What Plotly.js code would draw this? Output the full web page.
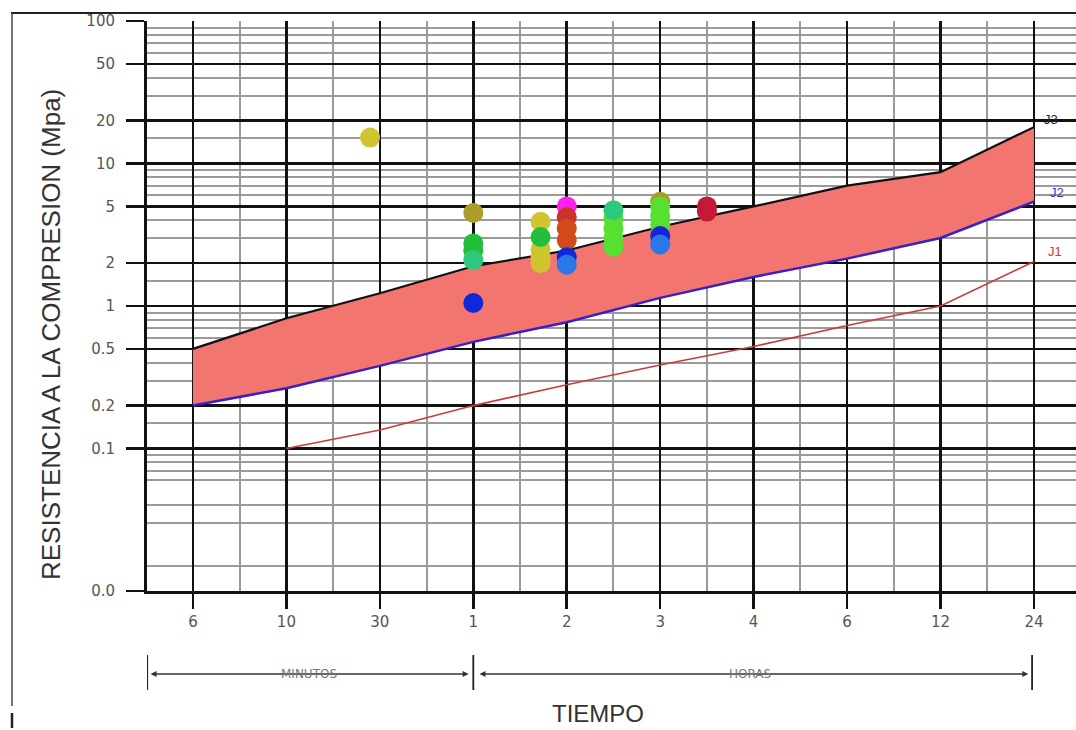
<!DOCTYPE html>
<html>
<head>
<meta charset="utf-8">
<script src="https://cdn.plot.ly/plotly-3.0.1.min.js"></script>
<style>html,body{margin:0;padding:0;background:#fff;}#chart{width:1076px;height:730px;}</style>
</head>
<body>
<div id="chart"></div>
<script>
// ---- time axis (category positions) ----
const timeLabels = ['6', '10', '30', '1', '2', '3', '4', '6', '12', '24'];
const timePos = [0, 1, 2, 3, 4, 5, 6, 7, 8, 9];

// ---- J curves (MPa) at each time position ----
const J3 = [0.5, 0.82, 1.23, 1.9, 2.45, 3.6, 5.0, 7.0, 8.7, 18.0];
const J2 = [0.2, 0.265, 0.38, 0.56, 0.77, 1.14, 1.6, 2.15, 3.0, 5.4];
const J1pos = [1, 2, 3, 4, 5, 6, 7, 8, 9];
const J1 = [0.1, 0.135, 0.2, 0.28, 0.385, 0.52, 0.73, 1.0, 2.05];

// ---- test results (position on time scale, MPa) ----
const yellowX = [1.895, 3.72, 3.72, 3.72, 3.72];
const yellowY = [15.2, 3.9, 2.5, 2.2, 2.0];
const oliveX = [3, 5];
const oliveY = [4.5, 5.4];
const greenX = [3, 3, 3.72];
const greenY = [2.75, 2.45, 3.05];
const tealX = [3, 4.5];
const tealY = [2.1, 4.7];
const lightGreenX = [4.5, 4.5, 4.5, 4.5, 5, 5, 5];
const lightGreenY = [4.1, 3.5, 3.0, 2.6, 5.0, 4.3, 3.7];
const magentaX = [4];
const magentaY = [5.0];
const redX = [4];
const redY = [4.2];
const orangeX = [4, 4];
const orangeY = [3.5, 2.9];
const blueX = [3, 4, 5];
const blueY = [1.05, 2.2, 3.1];
const lightBlueX = [4, 5];
const lightBlueY = [1.95, 2.7];
const crimsonX = [5.5, 5.5];
const crimsonY = [5.0, 4.6];

// ---- y axis ticks ----
const yTickVals = [0.01, 0.1, 0.2, 0.5, 1, 2, 5, 10, 20, 50, 100];
const yTickText = ['0.0', '0.1', '0.2', '0.5', '1', '2', '5', '10', '20', '50', '100'];
const minorMult = [1.5, 3, 4, 6, 7, 8, 9];
const yMinor = [];
[0.01, 0.1, 1, 10].forEach(d => minorMult.forEach(m => yMinor.push(+(d * m).toPrecision(3))));
const xMinor = [];
for (let i = -0.5; i <= 9.5; i += 1) xMinor.push(i);

const traces = [];
traces.push({x: timePos, y: J2, mode: 'lines', line: {color: '#3a1ec8', width: 2.5}, hoverinfo: 'skip'});
traces.push({x: timePos, y: J3, mode: 'lines', fill: 'tonexty', fillcolor: '#F2756F', line: {color: '#111', width: 2.2}, hoverinfo: 'skip'});
traces.push({x: J1pos, y: J1, mode: 'lines', line: {color: '#c83c3c', width: 1.6}, hoverinfo: 'skip'});

const groups = [
  [yellowX, yellowY, '#cfc530'],
  [oliveX, oliveY, '#ab9d2a'],
  [greenX, greenY, '#22c03a'],
  [lightGreenX, lightGreenY, '#58e030'],
  [tealX, tealY, '#2ec87c'],
  [magentaX, magentaY, '#ff22ee'],
  [redX, redY, '#cc3328'],
  [orangeX, orangeY, '#d24a18'],
  [blueX, blueY, '#1028d8'],
  [lightBlueX, lightBlueY, '#2a78e8'],
  [crimsonX, crimsonY, '#c41a36']
];
groups.forEach(g => traces.push({x: g[0], y: g[1], mode: 'markers', marker: {color: g[2], size: 20, line: {width: 0}}}));

const last = timePos.length - 1;
const font = 'Liberation Sans, Arial, sans-serif';

// paper helpers (plot area: x 147..1076 px, y 21..591 px)
const px = v => (v - 147) / 929;
const py = v => (591 - v) / 570;

const layout = {
  width: 1076, height: 730,
  margin: {l: 147, r: 0, t: 21, b: 139},
  paper_bgcolor: '#fff', plot_bgcolor: '#fff',
  showlegend: false,
  xaxis: {
    range: [-0.492, 9.45],
    tickmode: 'array', tickvals: timePos, ticktext: timeLabels,
    ticks: 'outside', ticklen: 15, tickwidth: 2.5, tickcolor: '#111',
    showgrid: true, gridcolor: '#111', gridwidth: 2.5,
    minor: {tickvals: xMinor, showgrid: true, gridcolor: '#9a9a9a', gridwidth: 2, ticks: ''},
    showline: true, linecolor: '#111', linewidth: 3,
    zeroline: false,
    tickfont: {family: 'DejaVu Sans, sans-serif', size: 15, color: '#555'}
  },
  yaxis: {
    type: 'log', range: [-2, 2],
    tickmode: 'array', tickvals: yTickVals, ticktext: yTickText,
    ticks: 'outside', ticklen: 18, tickwidth: 2.5, tickcolor: '#111',
    ticklabelstandoff: 8,
    showgrid: true, gridcolor: '#111', gridwidth: 2.5,
    minor: {tickvals: yMinor, showgrid: true, gridcolor: '#9a9a9a', gridwidth: 2, ticks: ''},
    showline: true, linecolor: '#111', linewidth: 3,
    zeroline: false,
    tickfont: {family: 'DejaVu Sans, sans-serif', size: 15, color: '#555'}
  },
  annotations: [
    {x: timePos[last] + 0.18, y: Math.log10(J3[last] * 1.13), xref: 'x', yref: 'y', text: 'J3', showarrow: false, font: {family: font, size: 13, color: '#222'}},
    {x: timePos[last] + 0.25, y: Math.log10(J2[last] * 1.15), xref: 'x', yref: 'y', text: 'J2', showarrow: false, font: {family: font, size: 13, color: '#3a3acc'}},
    {x: J1pos[J1pos.length - 1] + 0.22, y: Math.log10(J1[J1.length - 1] * 1.17), xref: 'x', yref: 'y', text: 'J1', showarrow: false, font: {family: font, size: 13, color: '#c04040'}},
    {x: px(51), y: py(335), xref: 'paper', yref: 'paper', xanchor: 'center', yanchor: 'middle', text: 'RESISTENCIA A LA COMPRESION (Mpa)', textangle: -90, showarrow: false, font: {family: font, size: 26, color: '#333'}},
    {x: px(598), y: py(713), xref: 'paper', yref: 'paper', xanchor: 'center', yanchor: 'middle', text: 'TIEMPO', showarrow: false, font: {family: font, size: 24, color: '#333'}},
    // bracket arrows
    {x: 2.95, y: py(674), xref: 'x', yref: 'paper', ax: -0.47, ay: 0, axref: 'x', ayref: 'pixel', text: '', showarrow: true, arrowhead: 2, arrowside: 'end+start', arrowsize: 0.8, arrowwidth: 1.5, arrowcolor: '#333'},
    {x: 8.94, y: py(674), xref: 'x', yref: 'paper', ax: 3.05, ay: 0, axref: 'x', ayref: 'pixel', text: '', showarrow: true, arrowhead: 2, arrowside: 'end+start', arrowsize: 0.8, arrowwidth: 1.5, arrowcolor: '#333'},
    {x: px(309), y: py(674), xref: 'paper', yref: 'paper', xanchor: 'center', yanchor: 'middle', text: 'MINUTOS', showarrow: false, font: {family: 'DejaVu Sans, sans-serif', size: 12, color: '#777'}},
    {x: px(750), y: py(674), xref: 'paper', yref: 'paper', xanchor: 'center', yanchor: 'middle', text: 'HORAS', showarrow: false, font: {family: 'DejaVu Sans, sans-serif', size: 12, color: '#777'}}
  ],
  shapes: [
    {type: 'line', xref: 'x', yref: 'paper', x0: -0.49, x1: -0.49, y0: py(655), y1: py(690), line: {color: '#222', width: 1.8}},
    {type: 'line', xref: 'x', yref: 'paper', x0: 3, x1: 3, y0: py(655), y1: py(690), line: {color: '#222', width: 1.8}},
    {type: 'line', xref: 'x', yref: 'paper', x0: 8.98, x1: 8.98, y0: py(655), y1: py(690), line: {color: '#222', width: 1.8}},
    // outer frame of the picture
    {type: 'line', xref: 'paper', yref: 'paper', x0: px(11), x1: 1, y0: py(13), y1: py(13), line: {color: '#222', width: 2}},
    {type: 'line', xref: 'paper', yref: 'paper', x0: px(12), x1: px(12), y0: py(13), y1: py(706), line: {color: '#444', width: 1.5}},
    {type: 'line', xref: 'paper', yref: 'paper', x0: px(12), x1: px(12), y0: py(713), y1: py(728), line: {color: '#222', width: 2.5}}
  ]
};

Plotly.newPlot('chart', traces, layout, {staticPlot: true, displayModeBar: false});
</script>
</body>
</html>
